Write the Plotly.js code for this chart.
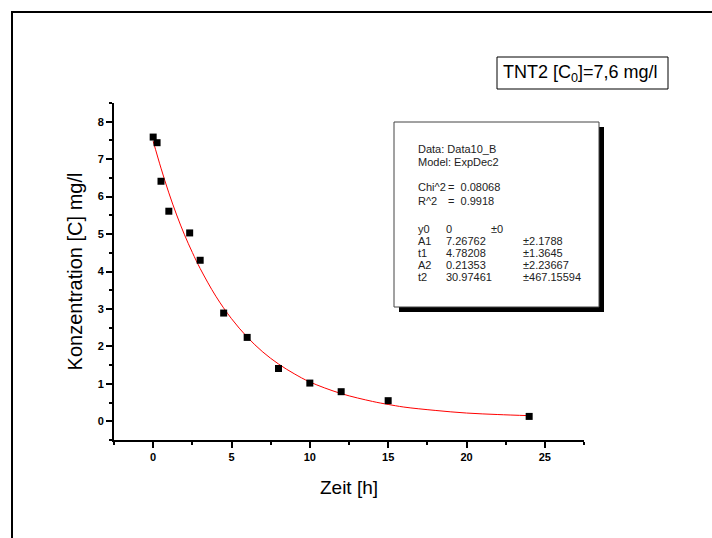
<!DOCTYPE html>
<html>
<head>
<meta charset="utf-8">
<script src="https://cdn.plot.ly/plotly-3.0.1.min.js"></script>
<style>
html,body{margin:0;padding:0;background:#fff;}
#chart{width:712px;height:538px;}
</style>
</head>
<body>
<div id="chart"></div>
<script>
// Measured data points
var timeH = [0, 0.25, 0.5, 1, 2.33, 3, 4.5, 6, 8, 10, 12, 15, 24];
var concMgL = [7.59, 7.44, 6.41, 5.61, 5.03, 4.30, 2.89, 2.24, 1.41, 1.02, 0.79, 0.55, 0.13];

// Fitted curve (ExpDec2)
var fitX = [0, 0.5, 1, 1.5, 2, 2.5, 3, 4, 5, 6, 7, 8, 9, 10, 12, 14, 15, 16, 18, 20, 22, 24];
var fitY = [7.48, 6.76, 6.10, 5.51, 4.98, 4.51, 4.08, 3.34, 2.74, 2.25, 1.85, 1.53, 1.27, 1.05, 0.74, 0.53, 0.45, 0.38, 0.29, 0.22, 0.18, 0.15];

var xTickVals = [0, 5, 10, 15, 20, 25];
var yTickVals = [0, 1, 2, 3, 4, 5, 6, 7, 8];

var titleText = "TNT2 [C<sub>0</sub>]=7,6 mg/l";
var statsHeader = ["Data: Data10_B", "Model: ExpDec2"];
var statsNames = ["Chi^2", "R^2"];
var statsValues = ["=  0.08068", "=  0.9918"];
var paramNames = ["y0", "A1", "t1", "A2", "t2"];
var paramValues = ["0", "7.26762", "4.78208", "0.21353", "30.97461"];
var paramErrors = ["±0", "±2.1788", "±1.3645", "±2.23667", "±467.15594"];

// plot area in pixels
var L = 114, R = 584, T = 103, B = 440;
function px(x){ return (x - L) / (R - L); }
function py(y){ return (B - y) / (B - T); }

var FONT = "Arial, 'Liberation Sans', sans-serif";

var traces = [
  {
    x: fitX, y: fitY, type: "scatter", mode: "lines",
    line: {color: "#ff0000", width: 1, shape: "spline"},
    hoverinfo: "skip", showlegend: false
  },
  {
    x: timeH, y: concMgL, type: "scatter", mode: "markers",
    marker: {symbol: "square", size: 7, color: "#000000"},
    showlegend: false
  }
];

var shapes = [
  // outer frame (left and top)
  {type: "line", xref: "paper", yref: "paper", x0: px(12), x1: px(12), y0: py(12), y1: py(545), line: {color: "#000", width: 2}},
  {type: "line", xref: "paper", yref: "paper", x0: px(11), x1: px(720), y0: py(12), y1: py(12), line: {color: "#000", width: 2}},
  // stats box shadow and box
  {type: "rect", xref: "paper", yref: "paper", x0: px(399), x1: px(604), y0: py(127), y1: py(312), fillcolor: "#000", line: {width: 0}},
  {type: "rect", xref: "paper", yref: "paper", x0: px(394), x1: px(599), y0: py(122), y1: py(307), fillcolor: "#fff", line: {color: "#444", width: 1}},
  // title box
  {type: "rect", xref: "paper", yref: "paper", x0: px(497), x1: px(668), y0: py(57), y1: py(89), fillcolor: "#fff", line: {color: "#000", width: 1}}
];

var annotations = [];
function addText(text, x, y, size){
  annotations.push({
    text: text, xref: "paper", yref: "paper", x: px(x), y: py(y),
    xanchor: "left", yanchor: "middle", showarrow: false,
    font: {family: FONT, size: size || 11, color: "#222"}
  });
}
annotations.push({
  text: titleText, xref: "paper", yref: "paper", x: px(501), y: py(73),
  xanchor: "left", yanchor: "middle", showarrow: false,
  font: {family: FONT, size: 18, color: "#000"}
});
addText(statsHeader[0], 416, 148.5);
addText(statsHeader[1], 416, 161.5);
for (var i = 0; i < statsNames.length; i++){
  addText(statsNames[i], 416, 187 + i * 14);
  addText(statsValues[i], 446, 187 + i * 14);
}
for (var j = 0; j < paramNames.length; j++){
  var yy = 229 + j * 12.1;
  addText(paramNames[j], 416, yy);
  addText(paramValues[j], 444, yy);
  addText(paramErrors[j], j === 0 ? 489 : 521, yy);
}

var layout = {
  width: 712, height: 538,
  margin: {l: L, r: 712 - R, t: T, b: 538 - B, pad: 0},
  paper_bgcolor: "#fff", plot_bgcolor: "#fff",
  showlegend: false,
  xaxis: {
    range: [-2.5, 27.5], tickvals: xTickVals, ticktext: xTickVals.map(String),
    showgrid: false, zeroline: false,
    showline: true, linecolor: "#000", linewidth: 2, mirror: false,
    ticks: "outside", ticklen: 6, tickwidth: 2, tickcolor: "#000",
    minor: {tick0: 0, dtick: 2.5, ticks: "outside", ticklen: 3, tickwidth: 2, tickcolor: "#000", showgrid: false},
    tickfont: {family: FONT, size: 11, color: "#000", weight: "bold"},
    title: {text: "Zeit [h]", font: {family: FONT, size: 19, color: "#000"}, standoff: 18},
    automargin: false
  },
  yaxis: {
    range: [-0.5, 8.5], tickvals: yTickVals, ticktext: yTickVals.map(String),
    showgrid: false, zeroline: false,
    showline: true, linecolor: "#000", linewidth: 2, mirror: false,
    ticks: "outside", ticklen: 6, tickwidth: 2, tickcolor: "#000",
    minor: {tick0: 0, dtick: 0.5, ticks: "outside", ticklen: 3, tickwidth: 2, tickcolor: "#000", showgrid: false},
    tickfont: {family: FONT, size: 11, color: "#000", weight: "bold"},
    title: {text: "Konzentration [C] mg/l", font: {family: FONT, size: 20, color: "#000"}, standoff: 10},
    automargin: false
  },
  shapes: shapes,
  annotations: annotations
};

Plotly.newPlot("chart", traces, layout, {displayModeBar: false, staticPlot: true});
</script>
</body>
</html>
